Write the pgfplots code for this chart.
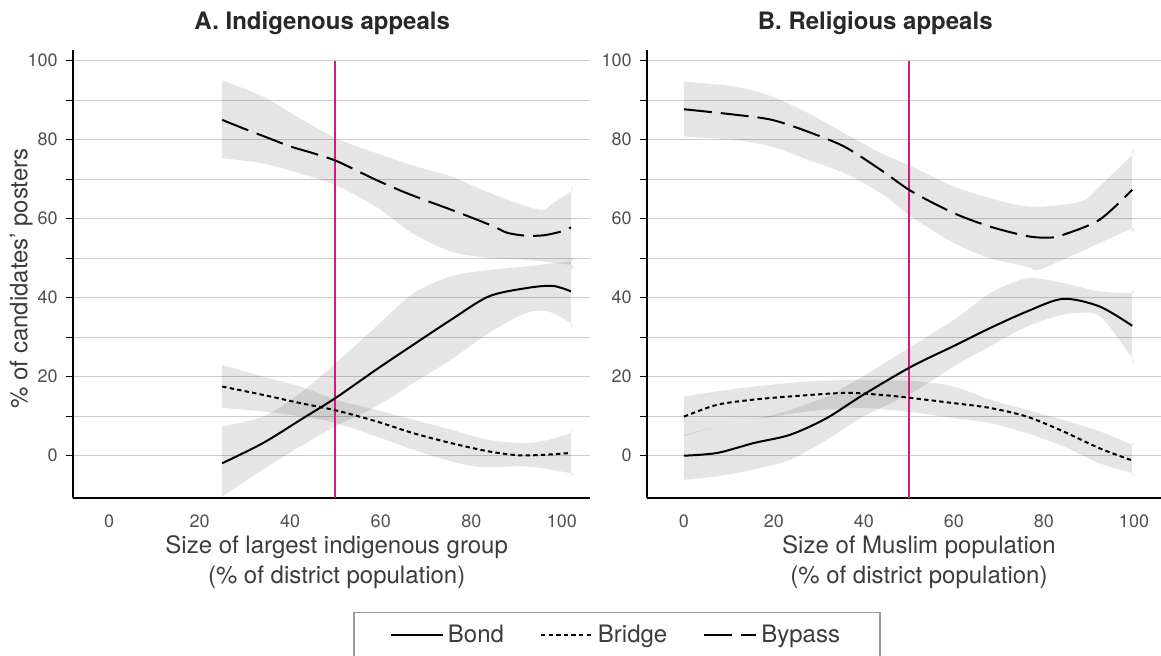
\documentclass[border=0pt]{standalone}
\usepackage{fontspec}
\setmainfont{TeX Gyre Heros}
\usepackage{pgfplots}
\pgfplotsset{compat=1.18}
\definecolor{mag}{RGB}{214,24,128}
\definecolor{tickc}{RGB}{80,80,80}
\definecolor{labc}{RGB}{60,60,60}
\definecolor{titc}{RGB}{40,40,40}
\pgfplotsset{
  panel/.style={
    scale only axis, height=224pt, ymin=-10.7, ymax=102.7,
    axis x line*=bottom, axis y line*=left,
    axis line style={line width=1pt,-},
    xtick={0,20,...,100}, ytick={0,20,...,100}, minor ytick={10,30,...,90},
    ymajorgrids, yminorgrids,
    major grid style={black!20, line width=0.5pt},
    minor grid style={black!20, line width=0.5pt},
    xtick style={draw=none},
    ytick style={black, line width=0.6pt},
    minor tick style={black, line width=0.6pt},
    tick align=outside, major tick length=3.5pt, minor tick length=3.5pt,
    tick label style={font=\fontsize{9}{10}\selectfont, text=tickc},
    /pgf/number format/assume math mode=true,
    xticklabel style={anchor=center, yshift=-8pt},
    yticklabel style={anchor=east, inner sep=0pt, xshift=-4pt},
    title style={font=\bfseries\fontsize{12}{14}\selectfont, text=titc, anchor=base, yshift=4pt},
    xlabel style={align=center, anchor=center, font=\fontsize{12}{15}\selectfont, text=labc},
    ylabel style={anchor=center, font=\fontsize{12}{14}\selectfont, text=labc},
  },
  bond/.style={black, line width=1pt, smooth},
  bridge/.style={black, line width=1pt, smooth, dash pattern=on 2.2pt off 1.6pt},
  bypass/.style={black, line width=1pt, smooth, dash pattern=on 14pt off 4.5pt},
  band/.style={fill=black, fill opacity=0.1, draw=none, smooth, forget plot},
}
\begin{document}
\begin{tikzpicture}
\useasboundingbox (0,0) rectangle (580.5pt,328pt);
% ---------- Panel A ----------
\begin{axis}[panel, at={(36.5pt,79pt)}, anchor=south west, width=258.5pt,
  xmin=-7.95, xmax=106.2,
  title={A. Indigenous appeals}, title style={at={(axis description cs:0.482,1)}},
  xlabel={Size of largest indigenous group\\(\% of district population)},
  xlabel style={at={(axis description cs:0.51,0)}, yshift=-32pt},
  ylabel={\% of candidates’ posters},
  ylabel style={at={(axis description cs:-0.1,0.49)}},
]
% bypass band (upper, then lower reversed)
\addplot[band] coordinates {(25,95) (34,90.9) (42,85.5) (50,80.4) (59,76.6) (67,73.5) (75.5,70.7) (82,67.5) (88,64.8) (95.4,62.2) (98,63.9) (102,66.9) (102,66.9)
  (102,48.3) (102,48.3) (92,49.6) (84,50) (75.5,51.7) (67,56.3) (59,63) (50,68.5) (42,71.5) (34,74) (25,75.3)} -- cycle;
% bond band
\addplot[band] coordinates {(25,7.4) (34,9.9) (42.3,15.9) (50,23.4) (59,32.7) (67.2,41.1) (75.5,45.4) (83.8,47) (92,47.9) (102,49.2) (102,49.2)
  (102,33.6) (102,33.6) (97,36.5) (92,36.1) (83.8,31) (75.5,24.3) (67.2,18.4) (59,12.5) (50,7.4) (42.3,2.4) (34,-3.5) (25,-10.3)} -- cycle;
% bridge band
\addplot[band] coordinates {(25,23) (34,20) (42.3,17.5) (50,14.2) (59,11.6) (67.2,9.1) (75.5,6.6) (83.8,4) (92,3.2) (97,4) (102,5.7) (102,5.7)
  (102,-4.4) (102,-4.4) (92,-2.7) (82.2,-2.9) (75.5,-1.4) (67.2,1.5) (59,4.9) (50,8.3) (42.3,10) (34,11.2) (25,12.1)} -- cycle;
% threshold
\addplot[mag, line width=1pt, forget plot] coordinates {(50,-10.7) (50,100)};
% lines
\addplot[bond] coordinates {(25,-1.9) (34,3.2) (42.3,9.1) (50,14.6) (59,21.8) (67.2,28.1) (75.5,34.4) (83.8,40.3) (92,42.4) (97.9,43) (102,41.6)};
\addplot[bridge] coordinates {(25,17.5) (34,15.4) (42.3,13.3) (50,11.5) (59,8.7) (67.2,5.7) (75.5,3.2) (83.8,1.1) (90.5,0.1) (96.3,0.25) (102,0.7)};
\addplot[bypass] coordinates {(25,85) (30,82.7) (35,80.5) (40,78.3) (45,76.6) (50,74.7) (55,72) (59,69.8) (65,66.8) (70,64.6) (75,62.5) (80,60.3) (85,58) (88,56.4) (92,55.7) (96,55.8) (100,56.8) (102,57.8)};
\end{axis}
% ---------- Panel B ----------
\begin{axis}[panel, at={(323.5pt,79pt)}, anchor=south west, width=257pt,
  xmin=-8.2, xmax=106,
  title={B. Religious appeals}, title style={at={(axis description cs:0.444,1)}},
  xlabel={Size of Muslim population\\(\% of district population)},
  xlabel style={at={(axis description cs:0.529,0)}, yshift=-32pt},
  legend columns=3,
  legend image code/.code={\draw[#1] (0pt,0pt) -- (26pt,0pt);},
  legend style={at={(axis description cs:-0.0584,-0.2545)}, anchor=north,
    draw=black!40, line width=0.6pt, font=\fontsize{12}{14}\selectfont, text=labc,
    inner xsep=18pt, inner ysep=4pt,
    /tikz/every even column/.append style={column sep=16pt}},
]
\addplot[band] coordinates {(0,94.7) (11.5,93.4) (19.6,90.9) (27.6,86.7) (35.7,81.6) (43.8,76.6) (50.6,73.2) (60,68.1) (68,65.2) (76.2,63.1) (84.2,63.5) (89.1,64.8) (92.3,68.1) (99.6,76.1) (99.6,76.1)
  (99.6,57.6) (99.6,57.6) (92.3,53.8) (84.2,49.6) (78.6,47) (76.2,47.9) (68,50) (60,53.8) (50.6,60.5) (43.8,66.4) (35.7,71.5) (27.6,74.9) (19.6,78.2) (11.5,79.9) (0,80.8)} -- cycle;
\addplot[band] coordinates {(0,5.3) (7.4,7.4) (15.5,9.1) (23.6,11.6) (31.7,15) (39.8,20.1) (50.6,27.7) (60,34.4) (68,41.1) (76.2,44.9) (84.2,43.7) (92.3,41.6) (99.6,41.1) (99.6,41.1)
  (99.6,24.7) (99.6,24.7) (93.9,33.6) (90.7,36.1) (84.2,35.7) (76.2,32.7) (68,27.7) (60,22.6) (50.6,15.9) (39.8,9.9) (31.7,4) (23.6,-1) (15.5,-3.5) (7.4,-5.2) (0,-6.1)} -- cycle;
\addplot[band] coordinates {(0,15) (7.4,16.3) (15.5,17.5) (27.6,18.8) (39.8,19.2) (51.9,18.8) (60,17.5) (68,14.2) (76.2,11.6) (84.2,9.1) (92.3,6.2) (99.6,2.8) (99.6,2.8)
  (99.6,-4.4) (99.6,-4.4) (92.3,-1.9) (84.2,2.4) (76.2,5.7) (68,8.3) (60,9.5) (51.9,10.8) (39.8,12.1) (27.6,11.2) (15.5,9.1) (7.4,7.4) (0,4.9)} -- cycle;
\addplot[mag, line width=1pt, forget plot] coordinates {(50,-10.7) (50,100)};
\addplot[bond] coordinates {(0,0) (7.4,0.7) (15.5,3.2) (23.6,5.3) (31.7,9.5) (39.8,15.4) (50.6,22.6) (60,27.8) (68,32.3) (76.2,36.5) (84.2,39.7) (92.3,37.8) (99.6,32.9)};
\addlegendentry{Bond}
\addplot[bridge] coordinates {(0,9.9) (7.4,12.9) (15.5,14.2) (23.6,15) (35.7,15.9) (43.8,15.4) (50.6,14.6) (60,13.3) (68,12.1) (76.2,9.9) (84.2,6.2) (92.3,1.9) (99.6,-1.2)};
\addlegendentry{Bridge}
\addplot[bypass] coordinates {(0,87.7) (11.5,86.3) (19.6,85) (27.6,82) (35.7,78.2) (43.8,72.3) (50.6,66.9) (60,61.4) (68,58) (76.2,55.6) (81,55.2) (84.2,55.9) (92.3,59.7) (99.6,67.3)};
\addlegendentry{Bypass}
\end{axis}
\end{tikzpicture}
\end{document}
